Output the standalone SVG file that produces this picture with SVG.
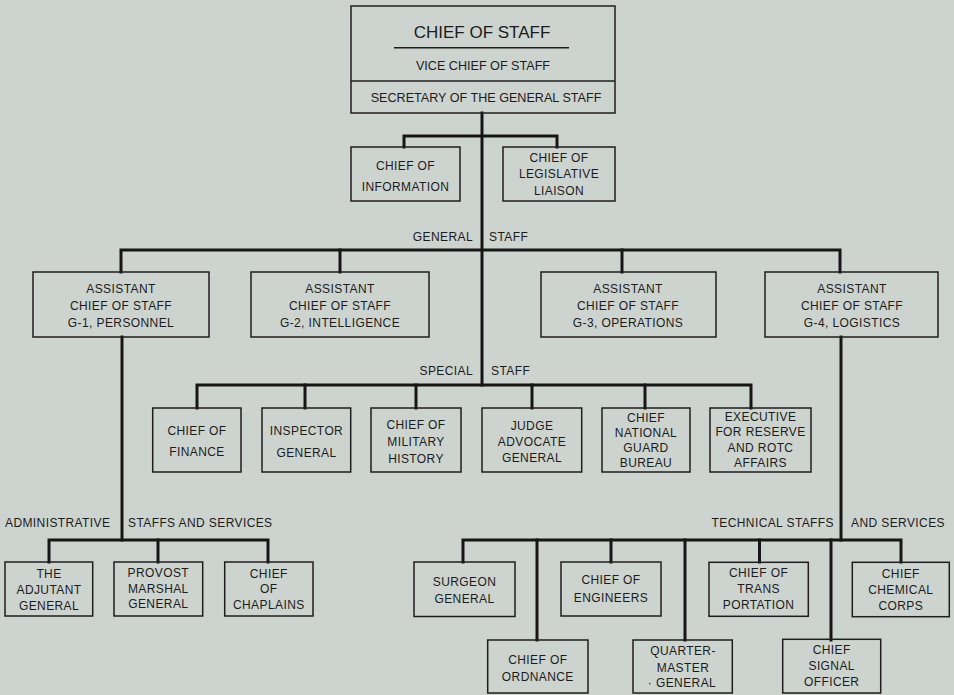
<svg xmlns="http://www.w3.org/2000/svg" width="954" height="695" viewBox="0 0 954 695">
<style>
.bg{fill:#cdd3cf}
.box{fill:none;stroke:#1e1e1e;stroke-width:1.5}
.con{fill:none;stroke:#161616;stroke-width:3;stroke-linejoin:miter;stroke-linecap:square}
text{font-family:"Liberation Sans",Arial,sans-serif;fill:#1c1c1c;font-size:12px;letter-spacing:0.4px}
.c{text-anchor:middle}
.e{text-anchor:end}
</style>
<rect class="bg" x="0" y="0" width="954" height="695"/>

<g id="connectors">
<path class="con" d="M482 113 V385"/>
<path class="con" d="M404 147 V136 H557 V147"/>
<path class="con" d="M121 272 V250 H840 V272"/>
<path class="con" d="M340 250 V272"/>
<path class="con" d="M622 250 V272"/>
<path class="con" d="M197 408 V385 H751 V408"/>
<path class="con" d="M305 385 V408"/>
<path class="con" d="M416 385 V408"/>
<path class="con" d="M532 385 V408"/>
<path class="con" d="M645 385 V408"/>
<path class="con" d="M122 337 V540"/>
<path class="con" d="M49 562 V540 H268 V562"/>
<path class="con" d="M158 540 V562"/>
<path class="con" d="M841 337 V540"/>
<path class="con" d="M463 562 V540 H901 V562"/>
<path class="con" d="M537 540 V640"/>
<path class="con" d="M611 540 V562"/>
<path class="con" d="M685 540 V640"/>
<path class="con" d="M759.5 540 V562"/>
<path class="con" d="M831 540 V640"/>
</g>

<g id="labels">
<text class="e" x="473" y="241">GENERAL</text>
<text x="489" y="241">STAFF</text>
<text class="e" x="473" y="375">SPECIAL</text>
<text x="491" y="375">STAFF</text>
<text x="5" y="527">ADMINISTRATIVE</text>
<text x="128" y="527">STAFFS AND SERVICES</text>
<text class="e" x="834" y="527">TECHNICAL STAFFS</text>
<text x="851" y="527">AND SERVICES</text>
</g>

<g id="chief-of-staff">
<rect class="box" x="351" y="6" width="264" height="107"/>
<line class="box" x1="351" y1="81" x2="615" y2="81"/>
<line x1="394" y1="47.7" x2="569" y2="47.7" stroke="#1e1e1e" stroke-width="1.5"/>
<text class="c" x="482" y="38" style="font-size:17px;letter-spacing:0">CHIEF OF STAFF</text>
<text class="c" x="483" y="70" style="font-size:12.6px;letter-spacing:0">VICE CHIEF OF STAFF</text>
<text class="c" x="486" y="102" style="font-size:12.6px;letter-spacing:0">SECRETARY OF THE GENERAL STAFF</text>
</g>

<g id="chief-of-information">
<rect class="box" x="351" y="147" width="109" height="54"/>
<text class="c" x="405.5" y="169.5">CHIEF OF</text>
<text class="c" x="405.5" y="190.5">INFORMATION</text>
</g>
<g id="chief-of-legislative-liaison">
<rect class="box" x="503" y="147" width="112" height="54"/>
<text class="c" x="559" y="161.7">CHIEF OF</text>
<text class="c" x="559" y="178.3">LEGISLATIVE</text>
<text class="c" x="559" y="195">LIAISON</text>
</g>

<g id="g1-personnel">
<rect class="box" x="33" y="272" width="176" height="65"/>
<text class="c" x="121" y="292.5">ASSISTANT</text>
<text class="c" x="121" y="310">CHIEF OF STAFF</text>
<text class="c" x="121" y="327">G-1, PERSONNEL</text>
</g>
<g id="g2-intelligence">
<rect class="box" x="251" y="272" width="178" height="65"/>
<text class="c" x="340" y="292.5">ASSISTANT</text>
<text class="c" x="340" y="310">CHIEF OF STAFF</text>
<text class="c" x="340" y="327">G-2, INTELLIGENCE</text>
</g>
<g id="g3-operations">
<rect class="box" x="541" y="272" width="175" height="65"/>
<text class="c" x="628" y="292.5">ASSISTANT</text>
<text class="c" x="628" y="310">CHIEF OF STAFF</text>
<text class="c" x="628" y="327">G-3, OPERATIONS</text>
</g>
<g id="g4-logistics">
<rect class="box" x="765" y="272" width="173" height="65"/>
<text class="c" x="852" y="292.5">ASSISTANT</text>
<text class="c" x="852" y="310">CHIEF OF STAFF</text>
<text class="c" x="852" y="327">G-4, LOGISTICS</text>
</g>

<g id="chief-of-finance">
<rect class="box" x="152.7" y="408" width="88.3" height="64"/>
<text class="c" x="197" y="435">CHIEF OF</text>
<text class="c" x="197" y="456">FINANCE</text>
</g>
<g id="inspector-general">
<rect class="box" x="262" y="408" width="88.7" height="64"/>
<text class="c" x="306.5" y="435">INSPECTOR</text>
<text class="c" x="306.5" y="456.7">GENERAL</text>
</g>
<g id="chief-of-military-history">
<rect class="box" x="371" y="408" width="90" height="64"/>
<text class="c" x="416" y="429">CHIEF OF</text>
<text class="c" x="416" y="446">MILITARY</text>
<text class="c" x="416" y="463.3">HISTORY</text>
</g>
<g id="judge-advocate-general">
<rect class="box" x="482" y="408" width="99.7" height="64"/>
<text class="c" x="532" y="430">JUDGE</text>
<text class="c" x="532" y="446">ADVOCATE</text>
<text class="c" x="532" y="461.5">GENERAL</text>
</g>
<g id="chief-national-guard-bureau">
<rect class="box" x="602" y="408" width="88" height="64"/>
<text class="c" x="646" y="421.7">CHIEF</text>
<text class="c" x="646" y="436.7">NATIONAL</text>
<text class="c" x="646" y="451.7">GUARD</text>
<text class="c" x="646" y="466.7">BUREAU</text>
</g>
<g id="executive-reserve-rotc">
<rect class="box" x="710" y="408" width="101" height="64"/>
<text class="c" x="760.5" y="421">EXECUTIVE</text>
<text class="c" x="760.5" y="436">FOR RESERVE</text>
<text class="c" x="760.5" y="451.7">AND ROTC</text>
<text class="c" x="760.5" y="466.7">AFFAIRS</text>
</g>

<g id="adjutant-general">
<rect class="box" x="5" y="562" width="87.7" height="54"/>
<text class="c" x="49" y="578.3">THE</text>
<text class="c" x="49" y="594.3">ADJUTANT</text>
<text class="c" x="49" y="610">GENERAL</text>
</g>
<g id="provost-marshal-general">
<rect class="box" x="114" y="562" width="88.7" height="54"/>
<text class="c" x="158.3" y="576.7">PROVOST</text>
<text class="c" x="158.3" y="592.7">MARSHAL</text>
<text class="c" x="158.3" y="608.3">GENERAL</text>
</g>
<g id="chief-of-chaplains">
<rect class="box" x="224.7" y="562" width="88.3" height="54"/>
<text class="c" x="268.8" y="578.3">CHIEF</text>
<text class="c" x="268.8" y="593.3">OF</text>
<text class="c" x="268.8" y="608.7">CHAPLAINS</text>
</g>

<g id="surgeon-general">
<rect class="box" x="414" y="562" width="101" height="54.5"/>
<text class="c" x="464.5" y="586">SURGEON</text>
<text class="c" x="464.5" y="602.7">GENERAL</text>
</g>
<g id="chief-of-engineers">
<rect class="box" x="561" y="562" width="100" height="54"/>
<text class="c" x="611" y="584">CHIEF OF</text>
<text class="c" x="611" y="601.7">ENGINEERS</text>
</g>
<g id="chief-of-transportation">
<rect class="box" x="709" y="562.3" width="99.3" height="54"/>
<text class="c" x="758.6" y="577.3">CHIEF OF</text>
<text class="c" x="758.6" y="593.3">TRANS</text>
<text class="c" x="758.6" y="609">PORTATION</text>
</g>
<g id="chief-chemical-corps">
<rect class="box" x="852.3" y="562.3" width="97" height="54.4"/>
<text class="c" x="900.8" y="578.3">CHIEF</text>
<text class="c" x="900.8" y="594.3">CHEMICAL</text>
<text class="c" x="900.8" y="610">CORPS</text>
</g>
<g id="chief-of-ordnance">
<rect class="box" x="487.7" y="640" width="100.3" height="53"/>
<text class="c" x="537.8" y="664">CHIEF OF</text>
<text class="c" x="537.8" y="681">ORDNANCE</text>
</g>
<g id="quartermaster-general">
<rect class="box" x="633" y="640" width="99.3" height="53"/>
<text class="c" x="683" y="655">QUARTER-</text>
<text class="c" x="683" y="671.7">MASTER</text>
<text class="c" x="682" y="687">· GENERAL</text>
</g>
<g id="chief-signal-officer">
<rect class="box" x="782.7" y="639.3" width="98" height="53.7"/>
<text class="c" x="831.7" y="654">CHIEF</text>
<text class="c" x="831.7" y="670">SIGNAL</text>
<text class="c" x="831.7" y="685.7">OFFICER</text>
</g>
</svg>
